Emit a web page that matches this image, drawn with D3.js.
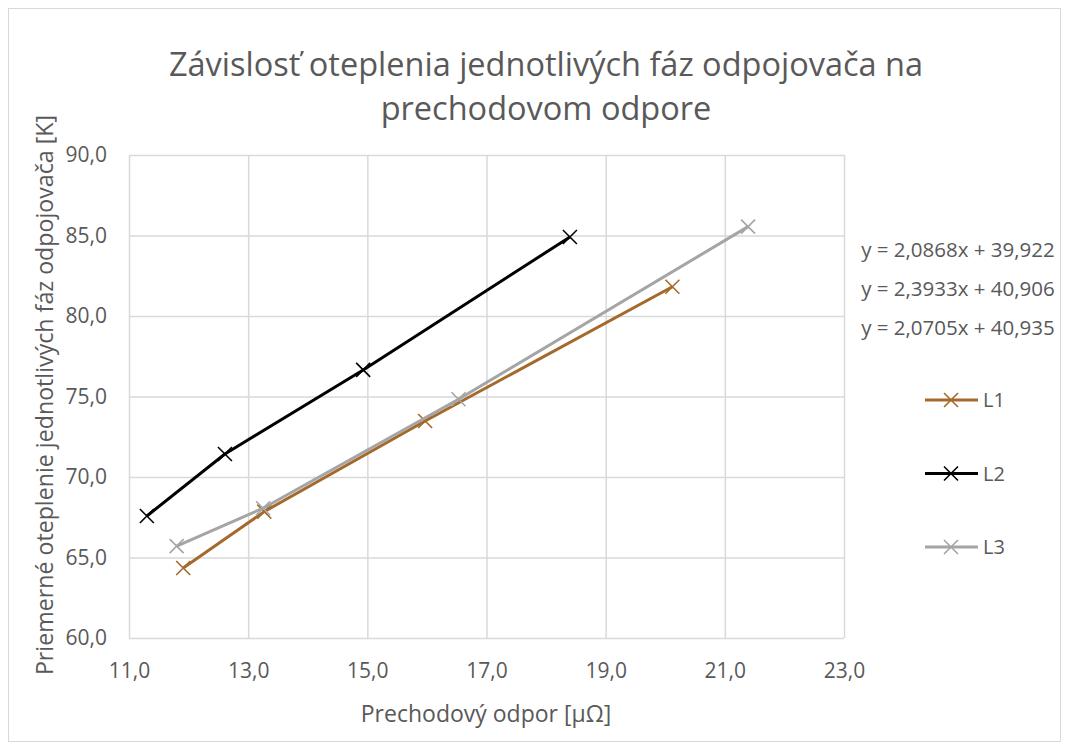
<!DOCTYPE html>
<html><head><meta charset="utf-8">
<script src="https://cdn.jsdelivr.net/npm/d3@7"></script>
<style>body{margin:0;background:#fff}svg{display:block}text{font-family:"Open Sans",sans-serif;fill:#595959}</style>
</head><body>
<svg id="c" width="1070" height="751"></svg>
<script>
const seriesNames = ["L1", "L2", "L3"];
const seriesColors = ["#a5692b", "#000000", "#a5a5a5"];
const L1x = [11.91, 13.27, 15.97, 20.12];
const L1y = [64.35, 67.85, 73.48, 81.82];
const L2x = [11.30, 12.61, 14.93, 18.40];
const L2y = [67.58, 71.43, 76.65, 84.91];
const L3x = [11.80, 13.25, 16.53, 21.39];
const L3y = [65.71, 68.06, 74.83, 85.55];
const equations = ["y = 2,0868x + 39,922", "y = 2,3933x + 40,906", "y = 2,0705x + 40,935"];
const xTicks = [11, 13, 15, 17, 19, 21, 23];
const yTicks = [60, 65, 70, 75, 80, 85, 90];
const titleLines = ["Závislosť oteplenia jednotlivých fáz odpojovača na", "prechodovom odpore"];
const xTitle = "Prechodový odpor [μΩ]";
const yTitle = "Priemerné oteplenie jednotlivých fáz odpojovača [K]";

const svg = d3.select("#c");
const fmt = v => d3.format(".1f")(v).replace(".", ",");
const x = d3.scaleLinear().domain([11, 23]).range([129, 844]);
const y = d3.scaleLinear().domain([60, 90]).range([638, 155]);

svg.append("rect").attr("x", 8.5).attr("y", 8.5).attr("width", 1052).attr("height", 733)
  .attr("fill", "#fff").attr("stroke", "#d9d9d9");

const gx = svg.append("g").attr("transform", "translate(0,638)")
  .call(d3.axisBottom(x).tickValues(xTicks).tickSize(-(638 - 155)).tickFormat(fmt).tickPadding(25));
const gy = svg.append("g").attr("transform", "translate(129,0)")
  .call(d3.axisLeft(y).tickValues(yTicks).tickSize(-(844 - 129)).tickFormat(fmt).tickPadding(22));
[gx, gy].forEach(g => {
  g.select(".domain").remove();
  g.selectAll(".tick line").attr("stroke", "#d9d9d9").attr("stroke-width", 1.5);
  g.selectAll(".tick text").style("font-size", "21px").attr("fill", "#595959");
});
gx.selectAll(".tick text").attr("dy", "0.71em");

const data = [[L1x, L1y], [L2x, L2y], [L3x, L3y]];
const line = d3.line().x(d => x(d[0])).y(d => y(d[1]));
const ms = 7;
function cross(g, cx, cy, color) {
  g.append("path").attr("d", `M${cx - ms},${cy - ms}L${cx + ms},${cy + ms}M${cx - ms},${cy + ms}L${cx + ms},${cy - ms}`)
    .attr("stroke", color).attr("stroke-width", 1.6).attr("fill", "none");
}
data.forEach((s, i) => {
  const pts = s[0].map((v, j) => [v, s[1][j]]);
  const g = svg.append("g");
  g.append("path").datum(pts).attr("d", line).attr("fill", "none")
    .attr("stroke", seriesColors[i]).attr("stroke-width", 3).attr("stroke-linejoin", "round");
  pts.forEach(p => cross(g, x(p[0]), y(p[1]), seriesColors[i]));
});

titleLines.forEach((t, i) => svg.append("text").attr("x", 546).attr("y", 76 + i * 44)
  .attr("text-anchor", "middle").style("font-size", "32.5px").text(t));

svg.append("text").attr("x", 486).attr("y", 722).attr("text-anchor", "middle").style("font-size", "23px").text(xTitle);
svg.append("text").attr("transform", "translate(53,395) rotate(-90)").attr("text-anchor", "middle")
  .style("font-size", "23.2px").text(yTitle);

equations.forEach((e, i) => svg.append("text").attr("x", 958).attr("y", 257 + i * 39)
  .attr("text-anchor", "middle").style("font-size", "20.5px").text(e));

seriesNames.forEach((n, i) => {
  const ly = 400 + i * 73.5;
  const g = svg.append("g");
  g.append("line").attr("x1", 925).attr("x2", 978).attr("y1", ly).attr("y2", ly)
    .attr("stroke", seriesColors[i]).attr("stroke-width", 3);
  cross(g, 951, ly, seriesColors[i]);
  g.append("text").attr("x", 983).attr("y", ly + 7).style("font-size", "20px").text(n);
});
</script>
</body></html>
